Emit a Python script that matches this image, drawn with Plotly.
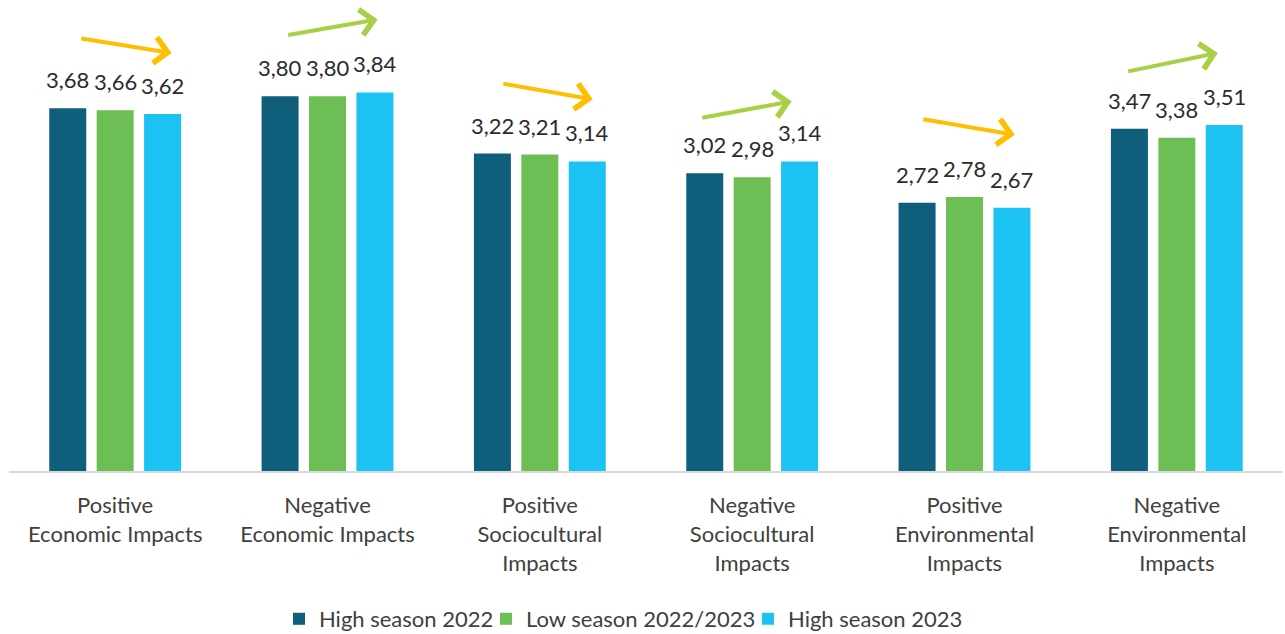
import plotly.graph_objects as go

# Impact dimensions (x categories) and the three survey waves
categories = [
    "Positive<br>Economic Impacts",
    "Negative<br>Economic Impacts",
    "Positive<br>Sociocultural<br>Impacts",
    "Negative<br>Sociocultural<br>Impacts",
    "Positive<br>Environmental<br>Impacts",
    "Negative<br>Environmental<br>Impacts",
]
series_names = ["High season 2022", "Low season 2022/2023", "High season 2023"]
high_season_2022 = [3.68, 3.80, 3.22, 3.02, 2.72, 3.47]
low_season_2022_2023 = [3.66, 3.80, 3.21, 2.98, 2.78, 3.38]
high_season_2023 = [3.62, 3.84, 3.14, 3.14, 2.67, 3.51]

series_values = [high_season_2022, low_season_2022_2023, high_season_2023]
series_colors = ["#0E5E7C", "#6DBF55", "#1BC2F2"]

FONT = "Lato"
TEXT_COLOR = "#404040"
BARGAP = 0.33
BARGROUPGAP = 0.22

# Legend entry anchors (container fractions), one legend per series
legend_ids = ["legend", "legend2", "legend3"]
legend_x = [0.2171, 0.3782, 0.5821]
LEGEND_Y = 0.0237

# Trend arrow placement per group: (tail dx, tail y, head dx, head y)
arrow_geometry = [
    (-0.167, 4.39, 0.266, 4.24),
    (-0.192, 4.42, 0.236, 4.58),
    (-0.179, 3.93, 0.249, 3.77),
    (-0.242, 3.58, 0.186, 3.75),
    (-0.201, 3.57, 0.237, 3.41),
    (-0.236, 4.05, 0.193, 4.24),
]
UP_COLOR = "#A9CF46"
DOWN_COLOR = "#FFBF00"

fig = go.Figure()
for name, vals, color, lid in zip(series_names, series_values, series_colors, legend_ids):
    fig.add_trace(go.Bar(
        x=categories, y=vals, name=name, legend=lid,
        marker=dict(color=color, line=dict(width=0)),
        hoverinfo="skip",
    ))

annotations = []
n_series = len(series_values)
slot = (1 - BARGAP) / n_series
for j, vals in enumerate(series_values):
    for i, v in enumerate(vals):
        annotations.append(dict(
            x=i + (j - (n_series - 1) / 2) * slot, y=v, xref="x", yref="y",
            text=f"{v:.2f}".replace(".", ","),
            showarrow=False, yanchor="bottom", yshift=13,
            font=dict(family=FONT, size=22, color="#2B2B2B"),
        ))

for i, (tdx, ty, hdx, hy) in enumerate(arrow_geometry):
    rising = series_values[-1][i] > series_values[0][i]
    annotations.append(dict(
        x=i + hdx, y=hy, xref="x", yref="y",
        ax=i + tdx, ay=ty, axref="x", ayref="y",
        text="", showarrow=True,
        arrowhead=4, arrowsize=1.25, arrowwidth=4,
        arrowcolor=UP_COLOR if rising else DOWN_COLOR,
    ))

legend_style = dict(
    orientation="h", xref="container", yref="container",
    xanchor="left", yanchor="middle", y=LEGEND_Y,
    font=dict(family=FONT, size=22, color=TEXT_COLOR),
    itemclick=False, itemdoubleclick=False,
    bgcolor="rgba(0,0,0,0)",
)

fig.update_layout(
    width=1285, height=634,
    margin=dict(l=9, r=2, t=0, b=163),
    paper_bgcolor="white", plot_bgcolor="white",
    barmode="group", bargap=BARGAP, bargroupgap=BARGROUPGAP,
    font=dict(family=FONT, size=22, color=TEXT_COLOR),
    showlegend=True,
    legend=dict(legend_style, x=legend_x[0]),
    legend2=dict(legend_style, x=legend_x[1]),
    legend3=dict(legend_style, x=legend_x[2]),
    annotations=annotations,
)
fig.update_xaxes(
    type="category", showgrid=False, zeroline=False, automargin=False,
    showline=True, linecolor="#D9D9D9", linewidth=2,
    ticks="", ticklabelstandoff=14,
    tickfont=dict(family=FONT, size=22, color=TEXT_COLOR),
)
fig.update_yaxes(range=[0, 4.777], visible=False, showgrid=False,
                 zeroline=False, automargin=False)

fig.write_html("out.html")
